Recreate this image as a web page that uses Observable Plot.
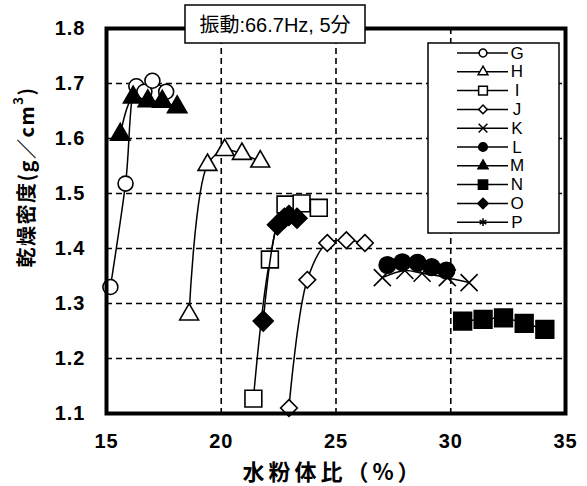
<!DOCTYPE html>
<html><head><meta charset="utf-8">
<script src="https://cdn.jsdelivr.net/npm/d3@7"></script>
<script src="https://cdn.jsdelivr.net/npm/@observablehq/plot@0.6"></script>
<style>body{margin:0;background:#fff}#chart{width:587px;height:486px}</style>
</head><body><div id="chart"></div>
<script>
// ---- data ----
const seriesNames = ["G","H","I","J","K","L","M","N","O","P"];
const gX = [15.17, 15.83, 16.3, 16.65, 17.0, 17.6];
const gY = [1.33, 1.518, 1.695, 1.685, 1.705, 1.685];
const hX = [18.6, 19.4, 20.15, 20.9, 21.7];
const hY = [1.28, 1.552, 1.579, 1.572, 1.558];
const iX = [21.4, 22.12, 22.8, 23.5, 24.25];
const iY = [1.127, 1.38, 1.48, 1.482, 1.474];
const jX = [22.95, 23.75, 24.62, 25.45, 26.26];
const jY = [1.11, 1.343, 1.41, 1.415, 1.41];
const kX = [27.02, 28.0, 28.75, 29.85, 30.8];
const kY = [1.347, 1.36, 1.355, 1.347, 1.338];
const lX = [27.24, 27.89, 28.55, 29.17, 29.81];
const lY = [1.37, 1.375, 1.374, 1.366, 1.36];
const mX = [15.6, 16.16, 16.8, 17.43, 18.08];
const mY = [1.607, 1.675, 1.668, 1.667, 1.657];
const nX = [30.52, 31.41, 32.3, 33.2, 34.1];
const nY = [1.268, 1.271, 1.274, 1.264, 1.253];
const oX = [21.83, 22.45, 22.75, 22.95, 23.3];
const oY = [1.268, 1.443, 1.455, 1.46, 1.455];
const pX = [27.3, 27.9, 28.5, 29.2, 29.8];
const pY = [1.368, 1.372, 1.372, 1.364, 1.358];
const xTicks = [15, 20, 25, 30, 35];
const yTicks = [1.1, 1.2, 1.3, 1.4, 1.5, 1.6, 1.7, 1.8];
const xGrid = [20, 25, 30];
const yGrid = [1.2, 1.3, 1.4, 1.5, 1.6, 1.7];
const xTitle = "水粉体比（%）";
const yTitleMain = "乾燥密度(g／cm";
const yTitleSup = "3";
const yTitleEnd = ")";
const noteText = "振動:66.7Hz, 5分";

// ---- styles ----
const raw = [gX,gY,hX,hY,iX,iY,jX,jY,kX,kY,lX,lY,mX,mY,nX,nY,oX,oY,pX,pY];
const styles = {
  G:{symbol:"circle", r:7.5, fill:"white"},
  H:{symbol:"triangle", r:7, fill:"white"},
  I:{symbol:"square", r:9.5, fill:"white"},
  J:{symbol:"diamond2", r:7.5, fill:"white"},
  K:{symbol:"times", r:7.8, fill:"none"},
  L:{symbol:"circle", r:8.3, fill:"black"},
  M:{symbol:"triangle", r:7.2, fill:"black"},
  N:{symbol:"square", r:10, fill:"black"},
  O:{symbol:"diamond2", r:9, fill:"black"},
  P:{symbol:"asterisk", r:7, fill:"none"}
};
const series = seriesNames.map((name, k) => ({
  name,
  rows: raw[2*k].map((x, idx) => ({x, y: raw[2*k+1][idx], s: name}))
}));

const marks = [
  Plot.ruleX(xGrid, {stroke:"black", strokeWidth:1.6, strokeDasharray:"6,4"}),
  Plot.ruleY(yGrid, {stroke:"black", strokeWidth:1.6, strokeDasharray:"6,4"}),
];
for (const s of series) {
  const st = styles[s.name];
  marks.push(Plot.line(s.rows, {x:"x", y:"y", curve:"catmull-rom", stroke:"black", strokeWidth:1.5}));
  marks.push(Plot.dot(s.rows, {x:"x", y:"y", symbol:()=>st.symbol, r:st.r, fill:st.fill, stroke:"black", strokeWidth:1.6}));
}
marks.push(Plot.frame({stroke:"black", strokeWidth:4}));
marks.push(Plot.axisX(xTicks, {tickSize:0, tickPadding:20, label:null, fontSize:20, fontWeight:"bold", fontFamily:"Liberation Sans, Arial, sans-serif", tickFormat:d=>String(d), fill:"black"}));
marks.push(Plot.axisY(yTicks, {tickSize:0, tickPadding:21, label:null, fontSize:20, fontWeight:"bold", fontFamily:"Liberation Sans, Arial, sans-serif", tickFormat:d=>d.toFixed(1), fill:"black"}));

const chart = Plot.plot({
  width:587, height:486,
  marginLeft:106, marginRight:22, marginTop:28, marginBottom:73,
  x:{domain:[15,35]},
  y:{domain:[1.1,1.8]},
  symbol:{type:"identity"},
  style:{background:"white", color:"black", overflow:"visible"},
  marks
});
document.getElementById("chart").appendChild(chart);
d3.select(chart).selectAll("g[aria-label='x-axis tick label'] text, g[aria-label='y-axis tick label'] text")
  .attr("letter-spacing", 1);

// ---- overlays: titles, note box, legend ----
const svg = d3.select(chart);
const cjk = "'Noto Sans CJK JP', 'Liberation Sans', sans-serif";
const latinCjk = "'Liberation Sans', 'Noto Sans CJK JP', sans-serif";

svg.append("text").attr("x", 333).attr("y", 470)
  .attr("text-anchor","middle").attr("dominant-baseline","central")
  .attr("font-family", cjk).attr("font-weight","bold").attr("font-size",22)
  .attr("letter-spacing", 4).text(xTitle);

const yt = svg.append("text").attr("transform","translate(25,177) rotate(-90)")
  .attr("text-anchor","middle").attr("dominant-baseline","central")
  .attr("font-family", cjk).attr("font-weight","bold").attr("font-size",20)
  .attr("letter-spacing", 1.5);
yt.append("tspan").text(yTitleMain);
yt.append("tspan").attr("font-size",13).attr("dy",-8).text(yTitleSup);
yt.append("tspan").attr("dy",8).text(yTitleEnd);

// note box
svg.append("rect").attr("x",185).attr("y",5).attr("width",180).attr("height",38)
  .attr("fill","white").attr("stroke","black").attr("stroke-width",1.5);
svg.append("text").attr("x",275).attr("y",25).attr("text-anchor","middle")
  .attr("dominant-baseline","central").attr("font-family", latinCjk)
  .attr("font-size",20).text(noteText);

// legend
const lg = svg.append("g");
lg.append("rect").attr("x",428).attr("y",43).attr("width",131).attr("height",190)
  .attr("fill","white").attr("stroke","black").attr("stroke-width",1.5);
const symMap = {circle:d3.symbolCircle, triangle:d3.symbolTriangle, square:d3.symbolSquare,
  diamond2:d3.symbolDiamond2, times:d3.symbolTimes, asterisk:d3.symbolAsterisk};
seriesNames.forEach((name, k) => {
  const st = styles[name];
  const yy = 53 + k * 18.8;
  lg.append("line").attr("x1",457).attr("x2",508).attr("y1",yy).attr("y2",yy)
    .attr("stroke","black").attr("stroke-width",1.5);
  const rr = st.r * 0.52;
  lg.append("path").attr("transform",`translate(483,${yy})`)
    .attr("d", d3.symbol(symMap[st.symbol], Math.PI*rr*rr)())
    .attr("fill", st.fill).attr("stroke","black").attr("stroke-width",1.5);
  lg.append("text").attr("x",517).attr("y",yy).attr("dominant-baseline","central")
    .attr("font-family","'Liberation Sans', Arial, sans-serif").attr("font-size",17).text(name);
});
</script>
</body></html>
